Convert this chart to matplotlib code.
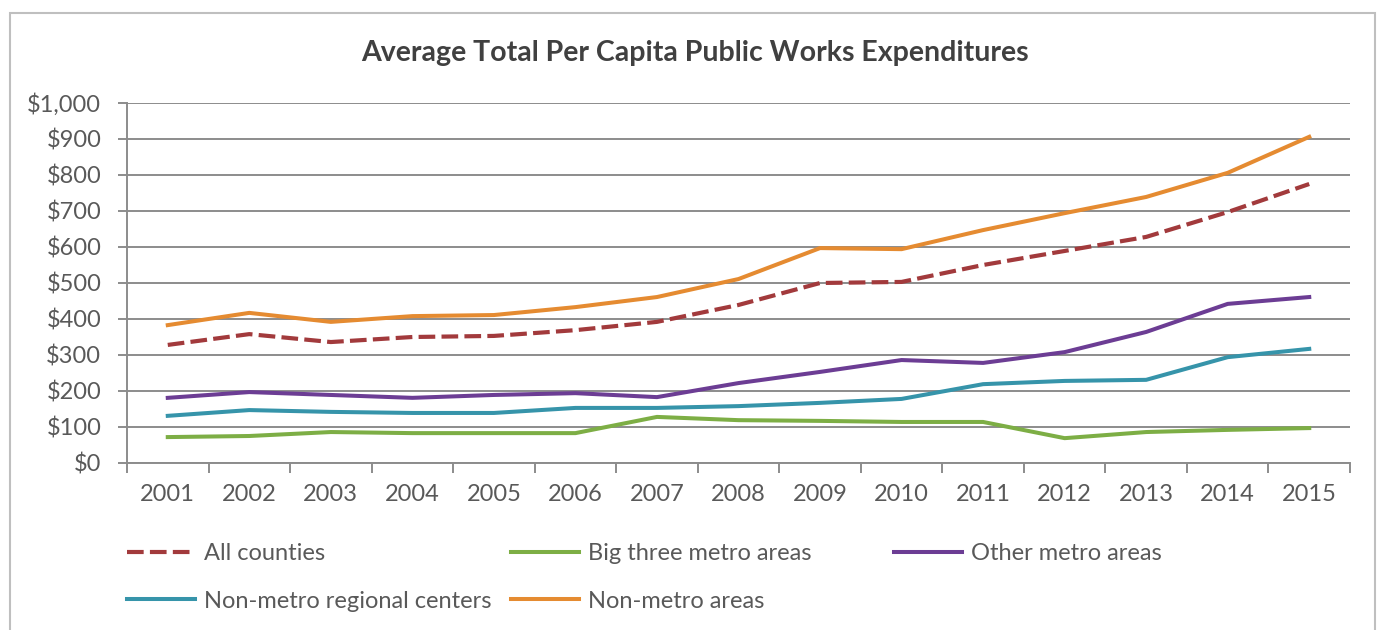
import matplotlib.pyplot as plt
from matplotlib.patches import Rectangle
from matplotlib.ticker import FuncFormatter, FixedLocator

plt.rcParams['font.family'] = ['Lato', 'DejaVu Sans']

# Дані
years = [2001, 2002, 2003, 2004, 2005, 2006, 2007, 2008,
         2009, 2010, 2011, 2012, 2013, 2014, 2015]
all_counties = [328, 358, 336, 350, 353, 369, 392, 439, 500, 503, 550, 589, 628, 697, 775]
big_three = [72, 75, 86, 83, 83, 83, 128, 119, 117, 114, 114, 69, 86, 92, 97]
other_metro = [181, 197, 189, 181, 189, 194, 183, 222, 253, 286, 278, 308, 364, 442, 461]
regional_centers = [131, 147, 142, 139, 139, 153, 153, 158, 167, 178, 219, 228, 231, 294, 317]
non_metro = [383, 417, 392, 408, 411, 433, 461, 511, 597, 594, 647, 694, 739, 806, 906]

W, H = 1384, 630
text_color = '#595959'
grid_color = '#8c8c8c'

fig = plt.figure(figsize=(W / 100, H / 100), dpi=100)
fig.patches.append(Rectangle((10 / W, -0.05), 1365 / W, 1.05 - 13 / H,
                             transform=fig.transFigure, fill=False,
                             edgecolor='#bfbfbf', linewidth=1.5))

ax = fig.add_axes([127 / W, 1 - 463 / H, 1223 / W, 360 / H])
x = list(range(len(years)))

h_all, = ax.plot(x, all_counties, color='#A23A3C', lw=3.0, dashes=(4.0, 1.5), label='All counties')
h_big, = ax.plot(x, big_three, color='#7DAE45', lw=2.9, label='Big three metro areas')
h_oth, = ax.plot(x, other_metro, color='#6C3D94', lw=2.9, label='Other metro areas')
h_reg, = ax.plot(x, regional_centers, color='#3694AA', lw=2.9, label='Non-metro regional centers')
h_non, = ax.plot(x, non_metro, color='#E58B31', lw=2.9, label='Non-metro areas')

ax.set_xlim(-0.5, len(years) - 0.5)
ax.set_ylim(0, 1000)
ax.set_yticks(range(0, 1001, 100))
ax.yaxis.set_major_formatter(FuncFormatter(lambda v, p: f'${int(v):,}'))
ax.yaxis.grid(True, color=grid_color, lw=1.4)
ax.set_axisbelow(True)

ax.xaxis.set_major_locator(FixedLocator([i - 0.5 for i in range(len(years) + 1)]))
ax.xaxis.set_major_formatter(FuncFormatter(lambda v, p: ''))
ax.set_xticks(x, [str(y) for y in years], minor=True)
ax.tick_params(axis='x', which='minor', length=0, pad=15, labelsize=17, labelcolor=text_color)
ax.tick_params(axis='x', which='major', length=7, color=grid_color, width=1.4)
ax.tick_params(axis='y', length=6.5, color=grid_color, width=1.4, labelsize=17,
               labelcolor=text_color, pad=12)

for s in ['top', 'right']:
    ax.spines[s].set_visible(False)
for s in ['left', 'bottom']:
    ax.spines[s].set_color(grid_color)
    ax.spines[s].set_linewidth(1.4)

fig.text(0.502, 1 - 53 / H, 'Average Total Per Capita Public Works Expenditures',
         ha='center', va='center', fontsize=20.5, fontweight='bold', color='#404040')

# легенда у стилі Excel: кожен запис окремо
legend_pos = [(h_all, 127, 554), (h_big, 511, 554), (h_oth, 894, 554),
              (h_reg, 127, 601), (h_non, 511, 601)]
for h, px, py in legend_pos:
    fig.legend(handles=[h], labels=[h.get_label()], loc='center left',
               bbox_to_anchor=(px / W, 1 - py / H), frameon=False, fontsize=17,
               handlelength=2.9, handletextpad=0.35, borderpad=0, borderaxespad=0,
               labelcolor=text_color)

fig.savefig('out.png', dpi=100)
